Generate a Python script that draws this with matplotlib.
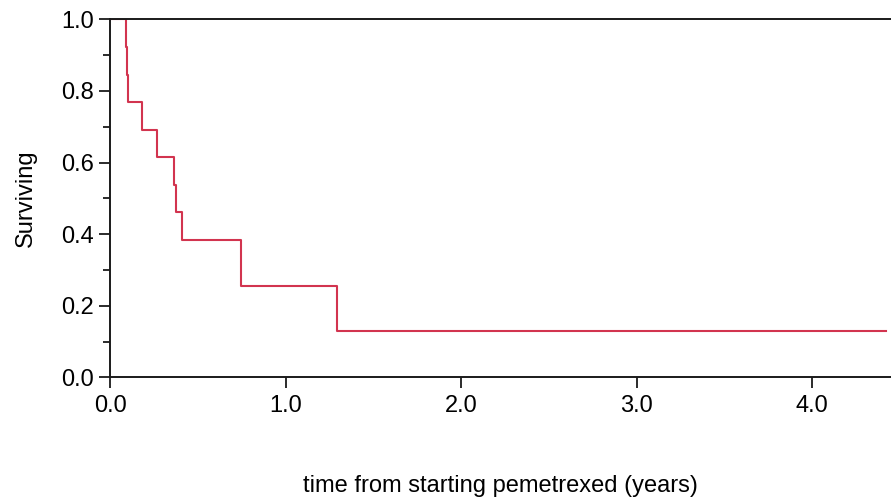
import matplotlib
matplotlib.use("Agg")
import matplotlib.pyplot as plt
from matplotlib.ticker import MultipleLocator

plt.rcParams['font.family'] = ['Liberation Sans', 'DejaVu Sans']

# Kaplan-Meier estimate
times = [0.0, 0.088, 0.094, 0.100, 0.183, 0.265, 0.365, 0.375, 0.407, 0.743, 1.29, 4.42]
surviving = [1.0, 0.923, 0.846, 0.769, 0.692, 0.615, 0.538, 0.462, 0.385, 0.256, 0.128, 0.128]
xticks = [0, 1, 2, 3, 4]
xticklabels = ["0.0", "1.0", "2.0", "3.0", "4.0"]
yticks = [0.0, 0.2, 0.4, 0.6, 0.8, 1.0]
yticklabels = ["0.0", "0.2", "0.4", "0.6", "0.8", "1.0"]

fig = plt.figure(figsize=(8.91, 5.04), dpi=100)
ax = fig.add_axes([110.2 / 891, 126.7 / 504, 780.8 / 891, 357.9 / 504])

ax.step(times, surviving, where='post', color='#d2344f', lw=1.5)

ax.set_xlim(0, 4.45)
ax.set_ylim(0, 1.0)
ax.set_xticks(xticks)
ax.set_xticklabels(xticklabels)
ax.set_yticks(yticks)
ax.set_yticklabels(yticklabels)
ax.yaxis.set_minor_locator(MultipleLocator(0.1))

for s in ['left', 'bottom', 'top']:
    ax.spines[s].set_linewidth(1.4)
    ax.spines[s].set_color('#1a1a1a')
ax.spines['right'].set_visible(False)

ax.tick_params(axis='both', which='major', direction='out', length=8, width=1.3,
               color='#1a1a1a', labelsize=17, pad=3.5)
ax.tick_params(axis='y', which='minor', direction='out', length=5, width=1.3, color='#1a1a1a')
ax.tick_params(axis='x', which='major', pad=4.5)

ax.set_ylabel('Surviving', fontsize=17)
ax.yaxis.set_label_coords(-0.094, 0.5)
ax.set_xlabel('time from starting pemetrexed (years)', fontsize=17)
ax.xaxis.set_label_coords(0.5, -0.272)

fig.savefig('out.png', dpi=100)
